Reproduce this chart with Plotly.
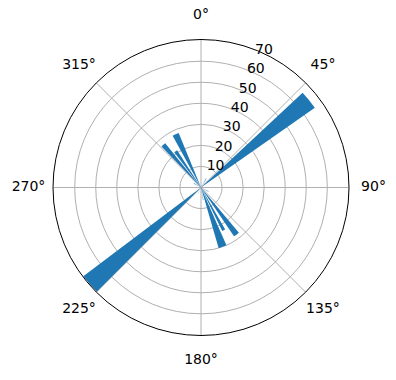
import plotly.graph_objects as go

# Bar directions (degrees, clockwise from north), lengths and angular widths
theta_deg = [51, 229, 334.5, 318.5, 325, 160, 152, 143, 30, 300, 118, 205, 170]
radii = [66, 70, 28, 27, 21, 30, 23, 28, 5, 4, 4, 3, 6]
widths = [8, 8, 6.5, 5, 4.5, 7.5, 4, 6, 3, 3, 3, 2, 2]

angle_ticks = [0, 45, 90, 135, 180, 225, 270, 315]
radial_ticks = [10, 20, 30, 40, 50, 60, 70]

RMAX = 70.3
FONT = "DejaVu Sans"

fig = go.Figure()
fig.add_trace(go.Barpolar(
    r=radii, theta=theta_deg, width=widths,
    marker=dict(color="#1f77b4", line=dict(width=0)),
    opacity=1, subplot="polar",
))
# radial tick labels along the 22.5° line
fig.add_trace(go.Scatterpolar(
    r=[v - 3 for v in radial_ticks], theta=[22.5] * len(radial_ticks),
    mode="text", text=[str(v) for v in radial_ticks],
    textposition="top right", cliponaxis=False,
    textfont=dict(family=FONT, size=14, color="black"),
    hoverinfo="skip", subplot="polar",
))
# angular tick labels on an outer, invisible polar frame sharing the centre
fig.add_trace(go.Scatterpolar(
    r=[1] * len(angle_ticks), theta=angle_ticks,
    mode="text", text=[f"{a}°" for a in angle_ticks],
    textposition="middle center", cliponaxis=False,
    textfont=dict(family=FONT, size=14, color="black"),
    hoverinfo="skip", subplot="polar2",
))

W, H = 396, 380
cx, cy, R, RL = 201, 187.5, 148, 172.5


def dom(rad):
    return dict(x=[(cx - rad) / W, (cx + rad) / W], y=[1 - (cy + rad) / H, 1 - (cy - rad) / H])


hidden_axis = dict(showgrid=False, showline=False, showticklabels=False, ticks="")

fig.update_layout(
    width=W, height=H,
    margin=dict(l=0, r=0, t=0, b=0),
    paper_bgcolor="white",
    showlegend=False,
    font=dict(family=FONT, size=14, color="black"),
    polar=dict(
        domain=dom(R),
        bgcolor="white",
        bargap=0,
        angularaxis=dict(
            rotation=90, direction="clockwise",
            tickmode="array", tickvals=angle_ticks,
            showticklabels=False,
            showline=True, linecolor="black", linewidth=1,
            showgrid=True, gridcolor="#b0b0b0", gridwidth=0.8,
            ticks="",
            layer="above traces",
        ),
        radialaxis=dict(
            range=[0, RMAX],
            tickmode="array", tickvals=radial_ticks,
            showticklabels=False,
            showline=False, ticks="",
            showgrid=True, gridcolor="#b0b0b0", gridwidth=0.8,
            layer="above traces",
        ),
    ),
    polar2=dict(
        domain=dom(RL),
        bgcolor="rgba(0,0,0,0)",
        angularaxis=dict(rotation=90, direction="clockwise", **hidden_axis),
        radialaxis=dict(range=[0, 1], **hidden_axis),
    ),
)

fig.write_html("out.html")
